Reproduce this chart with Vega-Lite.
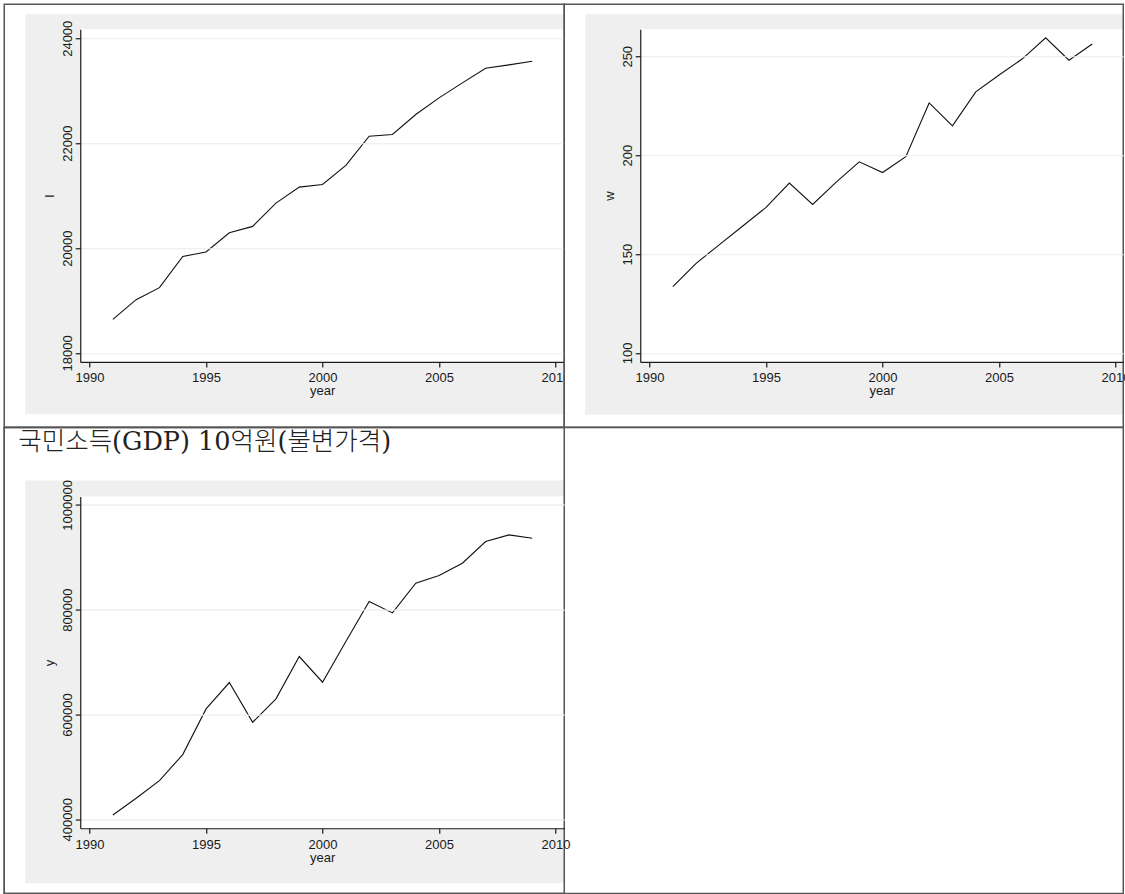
{
  "$schema": "https://vega.github.io/schema/vega-lite/v6.json",
  "padding": {"left": 3.25, "top": 3.25, "right": 0, "bottom": 0},
  "background": "white",
  "config": {
    "view": {"stroke": null, "fill": null},
    "style": {
      "guide-label": {"font": "Liberation Sans", "fontSize": 13, "fill": "#1a1a1a"},
      "guide-title": {"font": "Liberation Sans", "fontSize": 13, "fontWeight": "normal", "fill": "#1a1a1a"}
    },
    "axis": {
      "labelFont": "Liberation Sans", "titleFont": "Liberation Sans",
      "labelFontSize": 13, "titleFontSize": 13, "titleFontWeight": "normal",
      "labelColor": "#1a1a1a", "titleColor": "#1a1a1a",
      "domainColor": "#1a1a1a", "tickColor": "#1a1a1a",
      "tickSize": 5, "domainWidth": 1.2, "tickWidth": 1.2,
      "gridColor": "#ebebeb", "gridWidth": 1.2,
      "labelFlush": false, "labelOverlap": false
    },
    "axisX": {"format": "d", "labelPadding": 5, "titlePadding": 0, "grid": false},
    "axisY": {"format": "d", "labelAngle": 270, "labelAlign": "center", "labelBaseline": "alphabetic", "labelPadding": 4, "titleAngle": 270, "titleAlign": "center", "titleBaseline": "middle", "titleX": -31, "grid": true}
  },
  "datasets": {
    "series": [
      {"year": 1991, "l": 18641, "w": 133.5, "y": 408200},
      {"year": 1992, "l": 19016, "w": 145.3, "y": 440100},
      {"year": 1993, "l": 19245, "w": 154.8, "y": 473800},
      {"year": 1994, "l": 19841, "w": 164.2, "y": 523400},
      {"year": 1995, "l": 19924, "w": 173.6, "y": 610600},
      {"year": 1996, "l": 20292, "w": 185.9, "y": 660900},
      {"year": 1997, "l": 20413, "w": 175.1, "y": 585100},
      {"year": 1998, "l": 20857, "w": 186.2, "y": 629700},
      {"year": 1999, "l": 21162, "w": 196.6, "y": 710500},
      {"year": 2000, "l": 21213, "w": 191.2, "y": 661500},
      {"year": 2001, "l": 21575, "w": 199.2, "y": 739100},
      {"year": 2002, "l": 22133, "w": 226.4, "y": 815500},
      {"year": 2003, "l": 22165, "w": 214.8, "y": 793800},
      {"year": 2004, "l": 22546, "w": 232.0, "y": 850500},
      {"year": 2005, "l": 22864, "w": 240.5, "y": 865100},
      {"year": 2006, "l": 23149, "w": 248.7, "y": 888600},
      {"year": 2007, "l": 23429, "w": 259.3, "y": 930000},
      {"year": 2008, "l": 23492, "w": 248.0, "y": 942700},
      {"year": 2009, "l": 23562, "w": 256.2, "y": 936400}
    ]
  },
  "columns": 2,
  "spacing": {"row": 134.3, "column": 76},
  "bounds": "flush",
  "concat": [
    {
      "width": 484, "height": 332.7,
      "layer": [
        {
          "data": {"values": [{}]},
          "mark": {"type": "rect", "fill": "white", "clip": false},
          "encoding": {
            "x": {"datum": 1986.339, "type": "quantitative", "scale": {"domain": [1989.601, 2010.373], "nice": false, "zero": false}, "axis": {"title": "year", "values": [1990, 1995, 2000, 2005, 2010], "labelFontSize": 13, "titleFontSize": 13, "zindex": 1}},
            "x2": {"datum": 2010.373},
            "y": {"datum": 24648.2, "type": "quantitative", "scale": {"domain": [17828.4, 24171.6], "nice": false, "zero": false}, "axis": {"title": "l", "values": [18000, 20000, 22000, 24000], "labelFontSize": 13, "titleFontSize": 13, "titleY": 166.35, "zindex": 1}},
            "y2": {"datum": 16583.4}
          }
        },
        {
          "data": {"values": [{}]},
          "mark": {"type": "rect", "fill": "#efefef", "clip": false},
          "encoding": {
            "x": {"datum": 1987.24, "type": "quantitative", "scale": {"domain": [1989.601, 2010.373], "nice": false, "zero": false}, "axis": {"title": "year", "values": [1990, 1995, 2000, 2005, 2010], "labelFontSize": 13, "titleFontSize": 13, "zindex": 1}},
            "x2": {"datum": 2010.373},
            "y": {"datum": 24457.6, "type": "quantitative", "scale": {"domain": [17828.4, 24171.6], "nice": false, "zero": false}, "axis": {"title": "l", "values": [18000, 20000, 22000, 24000], "labelFontSize": 13, "titleFontSize": 13, "titleY": 166.35, "zindex": 1}},
            "y2": {"datum": 16831.3}
          }
        },
        {
          "data": {"values": [{}]},
          "mark": {"type": "rect", "fill": "white", "clip": false},
          "encoding": {
            "x": {"datum": 1989.601, "type": "quantitative", "scale": {"domain": [1989.601, 2010.373], "nice": false, "zero": false}, "axis": {"title": "year", "values": [1990, 1995, 2000, 2005, 2010], "labelFontSize": 13, "titleFontSize": 13, "zindex": 1}},
            "x2": {"datum": 2010.373},
            "y": {"datum": 24171.6, "type": "quantitative", "scale": {"domain": [17828.4, 24171.6], "nice": false, "zero": false}, "axis": {"title": "l", "values": [18000, 20000, 22000, 24000], "labelFontSize": 13, "titleFontSize": 13, "titleY": 166.35, "zindex": 1}},
            "y2": {"datum": 17828.4}
          }
        },
        {
          "data": {"name": "series"},
          "mark": {"type": "line", "color": "#111111", "strokeWidth": 1.1},
          "encoding": {
            "x": {"field": "year", "type": "quantitative", "scale": {"domain": [1989.601, 2010.373], "nice": false, "zero": false}, "axis": {"title": "year", "values": [1990, 1995, 2000, 2005, 2010], "labelFontSize": 13, "titleFontSize": 13, "zindex": 1}},
            "y": {"field": "l", "type": "quantitative", "scale": {"domain": [17828.4, 24171.6], "nice": false, "zero": false}, "axis": {"title": "l", "values": [18000, 20000, 22000, 24000], "labelFontSize": 13, "titleFontSize": 13, "titleY": 166.35, "zindex": 1}}
          }
        },
        {
          "data": {"values": [{}]},
          "mark": {"type": "rect", "filled": false, "stroke": "#555555", "strokeWidth": 1.5, "clip": false},
          "encoding": {
            "x": {"datum": 1986.339, "type": "quantitative", "scale": {"domain": [1989.601, 2010.373], "nice": false, "zero": false}, "axis": {"title": "year", "values": [1990, 1995, 2000, 2005, 2010], "labelFontSize": 13, "titleFontSize": 13, "zindex": 1}},
            "x2": {"datum": 2010.373},
            "y": {"datum": 24648.2, "type": "quantitative", "scale": {"domain": [17828.4, 24171.6], "nice": false, "zero": false}, "axis": {"title": "l", "values": [18000, 20000, 22000, 24000], "labelFontSize": 13, "titleFontSize": 13, "titleY": 166.35, "zindex": 1}},
            "y2": {"datum": 16583.4}
          }
        }
      ]
    },
    {
      "width": 483, "height": 332.7,
      "layer": [
        {
          "data": {"values": [{}]},
          "mark": {"type": "rect", "fill": "white", "clip": false},
          "encoding": {
            "x": {"datum": 1986.339, "type": "quantitative", "scale": {"domain": [1989.601, 2010.33], "nice": false, "zero": false}, "axis": {"title": "year", "values": [1990, 1995, 2000, 2005, 2010], "labelFontSize": 13, "titleFontSize": 13, "zindex": 1}},
            "x2": {"datum": 2010.33},
            "y": {"datum": 276.29, "type": "quantitative", "scale": {"domain": [95.45, 263.65], "nice": false, "zero": false}, "axis": {"title": "w", "values": [100, 150, 200, 250], "labelFontSize": 13, "titleFontSize": 13, "titleY": 166.35, "zindex": 1}},
            "y2": {"datum": 62.44}
          }
        },
        {
          "data": {"values": [{}]},
          "mark": {"type": "rect", "fill": "#efefef", "clip": false},
          "encoding": {
            "x": {"datum": 1987.24, "type": "quantitative", "scale": {"domain": [1989.601, 2010.33], "nice": false, "zero": false}, "axis": {"title": "year", "values": [1990, 1995, 2000, 2005, 2010], "labelFontSize": 13, "titleFontSize": 13, "zindex": 1}},
            "x2": {"datum": 2010.33},
            "y": {"datum": 271.23, "type": "quantitative", "scale": {"domain": [95.45, 263.65], "nice": false, "zero": false}, "axis": {"title": "w", "values": [100, 150, 200, 250], "labelFontSize": 13, "titleFontSize": 13, "titleY": 166.35, "zindex": 1}},
            "y2": {"datum": 68.76}
          }
        },
        {
          "data": {"values": [{}]},
          "mark": {"type": "rect", "fill": "white", "clip": false},
          "encoding": {
            "x": {"datum": 1989.601, "type": "quantitative", "scale": {"domain": [1989.601, 2010.33], "nice": false, "zero": false}, "axis": {"title": "year", "values": [1990, 1995, 2000, 2005, 2010], "labelFontSize": 13, "titleFontSize": 13, "zindex": 1}},
            "x2": {"datum": 2010.33},
            "y": {"datum": 263.65, "type": "quantitative", "scale": {"domain": [95.45, 263.65], "nice": false, "zero": false}, "axis": {"title": "w", "values": [100, 150, 200, 250], "labelFontSize": 13, "titleFontSize": 13, "titleY": 166.35, "zindex": 1}},
            "y2": {"datum": 95.45}
          }
        },
        {
          "data": {"name": "series"},
          "mark": {"type": "line", "color": "#111111", "strokeWidth": 1.1},
          "encoding": {
            "x": {"field": "year", "type": "quantitative", "scale": {"domain": [1989.601, 2010.33], "nice": false, "zero": false}, "axis": {"title": "year", "values": [1990, 1995, 2000, 2005, 2010], "labelFontSize": 13, "titleFontSize": 13, "zindex": 1}},
            "y": {"field": "w", "type": "quantitative", "scale": {"domain": [95.45, 263.65], "nice": false, "zero": false}, "axis": {"title": "w", "values": [100, 150, 200, 250], "labelFontSize": 13, "titleFontSize": 13, "titleY": 166.35, "zindex": 1}}
          }
        },
        {
          "data": {"values": [{}]},
          "mark": {"type": "rect", "filled": false, "stroke": "#555555", "strokeWidth": 1.5, "clip": false},
          "encoding": {
            "x": {"datum": 1986.339, "type": "quantitative", "scale": {"domain": [1989.601, 2010.33], "nice": false, "zero": false}, "axis": {"title": "year", "values": [1990, 1995, 2000, 2005, 2010], "labelFontSize": 13, "titleFontSize": 13, "zindex": 1}},
            "x2": {"datum": 2010.33},
            "y": {"datum": 276.29, "type": "quantitative", "scale": {"domain": [95.45, 263.65], "nice": false, "zero": false}, "axis": {"title": "w", "values": [100, 150, 200, 250], "labelFontSize": 13, "titleFontSize": 13, "titleY": 166.35, "zindex": 1}},
            "y2": {"datum": 62.44}
          }
        }
      ]
    },
    {
      "width": 484, "height": 331.7,
      "title": {"text": "국민소득(GDP) 10억원(불변가격)", "anchor": "start", "frame": "group", "orient": "top", "offset": 0, "dx": -62, "dy": 48.75, "font": "DejaVu Serif, Noto Sans CJK KR", "fontSize": 25.5, "fontWeight": 300, "color": "#222222", "baseline": "alphabetic"},
      "layer": [
        {
          "data": {"values": [{"cell": "C"}]},
          "mark": {"type": "rect", "fill": "white", "stroke": "#555555", "strokeWidth": 1.5, "clip": false},
          "encoding": {
            "x": {"datum": 1986.339, "type": "quantitative", "scale": {"domain": [1989.601, 2010.373], "nice": false, "zero": false}, "axis": {"title": "year", "values": [1990, 1995, 2000, 2005, 2010], "labelFontSize": 13, "titleFontSize": 13, "zindex": 1}},
            "x2": {"datum": 2034.365},
            "y": {"datum": 1147519, "type": "quantitative", "scale": {"domain": [382824, 1015840], "nice": false, "zero": false}, "axis": {"title": "y", "values": [400000, 600000, 800000, 1000000], "labelFontSize": 13, "titleFontSize": 13, "titleY": 165.85, "zindex": 1}},
            "y2": {"datum": 258206}
          }
        },
        {
          "data": {"values": [{}]},
          "mark": {"type": "rect", "fill": "#efefef", "clip": false},
          "encoding": {
            "x": {"datum": 1987.24, "type": "quantitative", "scale": {"domain": [1989.601, 2010.373], "nice": false, "zero": false}, "axis": {"title": "year", "values": [1990, 1995, 2000, 2005, 2010], "labelFontSize": 13, "titleFontSize": 13, "zindex": 1}},
            "x2": {"datum": 2010.373},
            "y": {"datum": 1046374, "type": "quantitative", "scale": {"domain": [382824, 1015840], "nice": false, "zero": false}, "axis": {"title": "y", "values": [400000, 600000, 800000, 1000000], "labelFontSize": 13, "titleFontSize": 13, "titleY": 165.85, "zindex": 1}},
            "y2": {"datum": 277863}
          }
        },
        {
          "data": {"values": [{}]},
          "mark": {"type": "rect", "fill": "white", "clip": false},
          "encoding": {
            "x": {"datum": 1989.601, "type": "quantitative", "scale": {"domain": [1989.601, 2010.373], "nice": false, "zero": false}, "axis": {"title": "year", "values": [1990, 1995, 2000, 2005, 2010], "labelFontSize": 13, "titleFontSize": 13, "zindex": 1}},
            "x2": {"datum": 2010.373},
            "y": {"datum": 1015840, "type": "quantitative", "scale": {"domain": [382824, 1015840], "nice": false, "zero": false}, "axis": {"title": "y", "values": [400000, 600000, 800000, 1000000], "labelFontSize": 13, "titleFontSize": 13, "titleY": 165.85, "zindex": 1}},
            "y2": {"datum": 382824}
          }
        },
        {
          "data": {"name": "series"},
          "mark": {"type": "line", "color": "#111111", "strokeWidth": 1.1},
          "encoding": {
            "x": {"field": "year", "type": "quantitative", "scale": {"domain": [1989.601, 2010.373], "nice": false, "zero": false}, "axis": {"title": "year", "values": [1990, 1995, 2000, 2005, 2010], "labelFontSize": 13, "titleFontSize": 13, "zindex": 1}},
            "y": {"field": "y", "type": "quantitative", "scale": {"domain": [382824, 1015840], "nice": false, "zero": false}, "axis": {"title": "y", "values": [400000, 600000, 800000, 1000000], "labelFontSize": 13, "titleFontSize": 13, "titleY": 165.85, "zindex": 1}}
          }
        },
        {
          "data": {"values": [{}]},
          "mark": {"type": "rect", "filled": false, "stroke": "#555555", "strokeWidth": 1.5, "clip": false},
          "encoding": {
            "x": {"datum": 1986.339, "type": "quantitative", "scale": {"domain": [1989.601, 2010.373], "nice": false, "zero": false}, "axis": {"title": "year", "values": [1990, 1995, 2000, 2005, 2010], "labelFontSize": 13, "titleFontSize": 13, "zindex": 1}},
            "x2": {"datum": 2010.373},
            "y": {"datum": 1147519, "type": "quantitative", "scale": {"domain": [382824, 1015840], "nice": false, "zero": false}, "axis": {"title": "y", "values": [400000, 600000, 800000, 1000000], "labelFontSize": 13, "titleFontSize": 13, "titleY": 165.85, "zindex": 1}},
            "y2": {"datum": 258206}
          }
        }
      ]
    }
  ]
}
